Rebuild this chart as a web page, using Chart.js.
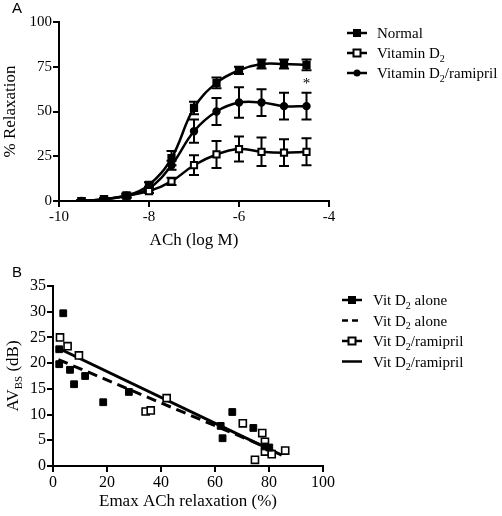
<!DOCTYPE html>
<html>
<head>
<meta charset="utf-8">
<script src="https://cdn.jsdelivr.net/npm/chart.js@4.4.1/dist/chart.umd.min.js"></script>
<style>
  body { margin: 0; background: #fff; }
  .panel { position: absolute; left: 0; }
</style>
</head>
<body>
<div class="panel" style="top:0"><canvas id="chartA" width="502" height="258"></canvas></div>
<div class="panel" style="top:258px"><canvas id="chartB" width="502" height="258"></canvas></div>
<script>
// Panel A: concentration-response
const logConc = [-9.5, -9, -8.5, -8, -7.5, -7, -6.5, -6, -5.5, -5, -4.5];
const normalMean = [0, 1, 3, 9, 24, 52, 66, 73, 76.5, 76.5, 76];
const normalErr = [0.5, 0.5, 1, 1.5, 4, 3.5, 3, 2, 2.5, 2.5, 3];
const vitD2Mean = [0, 1, 3, 5.5, 11, 20, 26, 29, 27.5, 27, 27.5];
const vitD2Err = [0.5, 0.5, 1, 1, 2, 5.5, 7.5, 7, 8, 7.5, 7.5];
const ramiprilMean = [0, 1, 3, 7, 20, 39, 50, 55, 55, 53, 53];
const ramiprilErr = [0.5, 0.5, 1, 1, 2.5, 6.5, 7.5, 8.5, 7.5, 7.5, 7.5];
const xTicksA = [-10, -8, -6, -4];
const yTicksA = [0, 25, 50, 75, 100];

// Panel B: correlation scatter
const aloneX = [2.3, 2.3, 3.8, 6.3, 7.8, 11.9, 18.6, 28.1, 62.1, 62.8, 66.4, 74.2, 78.5, 80.1];
const aloneY = [19.8, 22.7, 29.7, 18.7, 15.9, 17.5, 12.4, 14.4, 7.8, 5.4, 10.5, 7.4, 3.8, 3.6];
const ramiX = [2.6, 5.4, 9.6, 34.3, 36.2, 42.1, 70.3, 74.8, 77.5, 78.5, 78.5, 81, 86];
const ramiY = [25.0, 23.3, 21.5, 10.6, 10.8, 13.2, 8.3, 1.2, 6.4, 4.7, 2.8, 2.3, 3.0];
const aloneFitX = [2, 79.6];
const aloneFitY = [20.7, 3.5];
const ramiFitX = [2, 84.7];
const ramiFitY = [22.9, 2.1];
const xTicksB = [0, 20, 40, 60, 80, 100];
const yTicksB = [0, 5, 10, 15, 20, 25, 30, 35];

const SERIF = "'Liberation Serif', 'Times New Roman', serif";

function pts(xs, ys) { return xs.map((x, i) => ({ x: x, y: ys[i] })); }

// text with subscript parts: [[text, isSub], ...]
function richWidth(ctx, parts, size, subSize) {
  let w = 0;
  parts.forEach(([t, sub]) => {
    ctx.font = (sub ? subSize : size) + 'px ' + SERIF;
    w += ctx.measureText(t).width;
  });
  return w;
}
function drawRich(ctx, parts, x, y, size, subSize) {
  ctx.textBaseline = 'alphabetic';
  ctx.textAlign = 'left';
  parts.forEach(([t, sub]) => {
    ctx.font = (sub ? subSize : size) + 'px ' + SERIF;
    ctx.fillText(t, x, sub ? y + size * 0.25 : y);
    x += ctx.measureText(t).width;
  });
}

function drawMarker(ctx, style, x, y) {
  ctx.save();
  ctx.lineWidth = 2;
  ctx.strokeStyle = '#000';
  if (style === 'fillSq') {
    ctx.fillStyle = '#000';
    ctx.fillRect(x - 4, y - 4, 8, 8);
  } else if (style === 'openSq') {
    ctx.fillStyle = '#fff';
    ctx.fillRect(x - 4, y - 4, 8, 8);
    ctx.strokeRect(x - 3.5, y - 3.5, 7, 7);
  } else if (style === 'circle') {
    ctx.fillStyle = '#000';
    ctx.beginPath();
    ctx.arc(x, y, 3.5, 0, Math.PI * 2);
    ctx.fill();
  }
  ctx.restore();
}

const errorBars = {
  id: 'errorBars',
  beforeDatasetsDraw(chart) {
    const ctx = chart.ctx;
    const xs = chart.scales.x, ys = chart.scales.y;
    ctx.save();
    ctx.strokeStyle = '#000';
    ctx.lineWidth = 2;
    chart.data.datasets.forEach(ds => {
      if (!ds.errors) return;
      ds.data.forEach((p, i) => {
        const e = ds.errors[i];
        const px = xs.getPixelForValue(p.x);
        const top = ys.getPixelForValue(p.y + e);
        const bot = ys.getPixelForValue(Math.max(0, p.y - e));
        ctx.beginPath();
        ctx.moveTo(px, top); ctx.lineTo(px, bot);
        ctx.moveTo(px - 5, top); ctx.lineTo(px + 5, top);
        ctx.moveTo(px - 5, bot); ctx.lineTo(px + 5, bot);
        ctx.stroke();
      });
    });
    ctx.restore();
  }
};

const decorA = {
  id: 'decorA',
  afterDraw(chart) {
    const ctx = chart.ctx;
    const a = chart.chartArea;
    ctx.save();
    ctx.fillStyle = '#000';
    ctx.font = "15px 'Liberation Sans', Arial, sans-serif";
    ctx.textAlign = 'left';
    ctx.textBaseline = 'middle';
    ctx.fillText('A', 12, 9);
    // axis titles
    ctx.font = '17px ' + SERIF;
    ctx.textAlign = 'center';
    ctx.fillText('ACh (log M)', (a.left + a.right) / 2, 241);
    ctx.save();
    ctx.translate(11, (a.top + a.bottom) / 2);
    ctx.rotate(-Math.PI / 2);
    ctx.fillText('% Relaxation', 0, 0);
    ctx.restore();
    // significance mark
    const xs = chart.scales.x, ys = chart.scales.y;
    ctx.font = '15px ' + SERIF;
    ctx.fillText('*', xs.getPixelForValue(logConc[logConc.length - 1]), ys.getPixelForValue(normalMean[normalMean.length - 1]) + 19);
    // legend
    const items = [
      ['fillSq', [['Normal', false]]],
      ['openSq', [['Vitamin D', false], ['2', true]]],
      ['circle', [['Vitamin D', false], ['2', true], ['/ramipril', false]]]
    ];
    items.forEach(([m, parts], i) => {
      const y = 33 + i * 20;
      ctx.strokeStyle = '#000';
      ctx.lineWidth = 2.5;
      ctx.beginPath(); ctx.moveTo(347, y); ctx.lineTo(367, y); ctx.stroke();
      drawMarker(ctx, m, 357, y);
      ctx.fillStyle = '#000';
      drawRich(ctx, parts, 377, y + 5, 15, 10);
    });
    ctx.restore();
  }
};

const decorB = {
  id: 'decorB',
  afterDraw(chart) {
    const ctx = chart.ctx;
    const a = chart.chartArea;
    ctx.save();
    ctx.fillStyle = '#000';
    ctx.font = "15px 'Liberation Sans', Arial, sans-serif";
    ctx.textAlign = 'left';
    ctx.textBaseline = 'middle';
    ctx.fillText('B', 12, 15);
    ctx.font = '17px ' + SERIF;
    ctx.textAlign = 'center';
    ctx.fillText('Emax ACh relaxation (%)', (a.left + a.right) / 2, 244);
    // rotated y title with subscript
    ctx.save();
    ctx.translate(18, (a.top + a.bottom) / 2);
    ctx.rotate(-Math.PI / 2);
    const parts = [['AV', false], ['BS', true], [' (dB)', false]];
    const w = richWidth(ctx, parts, 17, 11);
    drawRich(ctx, parts, -w / 2, 0, 17, 11);
    ctx.restore();
    // legend
    const items = [
      ['fillSq', [], [['Vit D', false], ['2', true], [' alone', false]]],
      ['none', [6, 4], [['Vit D', false], ['2', true], [' alone', false]]],
      ['openSq', [], [['Vit D', false], ['2', true], ['/ramipril', false]]],
      ['none', [], [['Vit D', false], ['2', true], ['/ramipril', false]]]
    ];
    items.forEach(([m, dash, p], i) => {
      const y = 42 + i * 20.5;
      ctx.strokeStyle = '#000';
      ctx.lineWidth = 2.5;
      ctx.setLineDash(dash);
      ctx.beginPath(); ctx.moveTo(342, y); ctx.lineTo(362, y); ctx.stroke();
      ctx.setLineDash([]);
      drawMarker(ctx, m, 352, y);
      ctx.fillStyle = '#000';
      drawRich(ctx, p, 373, y + 5, 15, 10);
    });
    ctx.restore();
  }
};

function axisStyle(min, max, ticks, fontSize, extra) {
  return Object.assign({
    type: 'linear',
    min: min,
    max: max,
    afterBuildTicks: (s) => { s.ticks = ticks.map(v => ({ value: v })); },
    grid: { display: true, drawOnChartArea: false, drawTicks: true, tickLength: 6, color: '#000', lineWidth: 2 },
    border: { display: true, color: '#000', width: 2 },
    ticks: { color: '#000', font: { family: SERIF, size: fontSize }, padding: 1, maxRotation: 0, autoSkip: false },
    title: { display: false }
  }, extra || {});
}

new Chart(document.getElementById('chartA'), {
  type: 'line',
  data: {
    datasets: [
      { label: 'Normal', data: pts(logConc, normalMean), errors: normalErr,
        pointStyle: 'rect', pointRadius: 4.4, pointBackgroundColor: '#000' },
      { label: 'Vitamin D2', data: pts(logConc, vitD2Mean), errors: vitD2Err,
        pointStyle: 'rect', pointRadius: 4.4, pointBackgroundColor: '#fff' },
      { label: 'Vitamin D2/ramipril', data: pts(logConc, ramiprilMean), errors: ramiprilErr,
        pointStyle: 'circle', pointRadius: 3.2, pointBackgroundColor: '#000' }
    ].map(d => Object.assign({
      borderColor: '#000', borderWidth: 2.5, pointBorderColor: '#000', pointBorderWidth: 2,
      tension: 0.4, fill: false
    }, d))
  },
  options: {
    responsive: false,
    animation: false,
    layout: { padding: { top: 22, right: 173, left: 0, bottom: 0 } },
    plugins: { legend: { display: false }, tooltip: { enabled: false } },
    scales: {
      x: axisStyle(-10, -4, xTicksA, 15, { afterFit: (s) => { s.height = 57; } }),
      y: axisStyle(0, 100, yTicksA, 15, { afterFit: (s) => { s.width = 59; } })
    }
  },
  plugins: [errorBars, decorA]
});

new Chart(document.getElementById('chartB'), {
  type: 'scatter',
  data: {
    datasets: [
      { label: 'Vit D2 alone', data: pts(aloneX, aloneY), pointStyle: 'rect', pointRadius: 4.8,
        pointBackgroundColor: '#000', pointBorderColor: '#000', pointBorderWidth: 1, showLine: false },
      { label: 'Vit D2 alone fit', data: pts(aloneFitX, aloneFitY), type: 'line', showLine: true,
        borderColor: '#000', borderWidth: 3, borderDash: [10, 6], pointRadius: 0 },
      { label: 'Vit D2/ramipril', data: pts(ramiX, ramiY), pointStyle: 'rect', pointRadius: 5,
        pointBackgroundColor: '#fff', pointBorderColor: '#000', pointBorderWidth: 1.6, showLine: false },
      { label: 'Vit D2/ramipril fit', data: pts(ramiFitX, ramiFitY), type: 'line', showLine: true,
        borderColor: '#000', borderWidth: 3, pointRadius: 0 }
    ]
  },
  options: {
    responsive: false,
    animation: false,
    layout: { padding: { top: 28, right: 179, left: 0, bottom: 0 } },
    plugins: { legend: { display: false }, tooltip: { enabled: false } },
    scales: {
      x: axisStyle(0, 100, xTicksB, 16, { afterFit: (s) => { s.height = 50; } }),
      y: axisStyle(0, 35, yTicksB, 16, { afterFit: (s) => { s.width = 53; } })
    }
  },
  plugins: [decorB]
});
</script>
</body>
</html>
